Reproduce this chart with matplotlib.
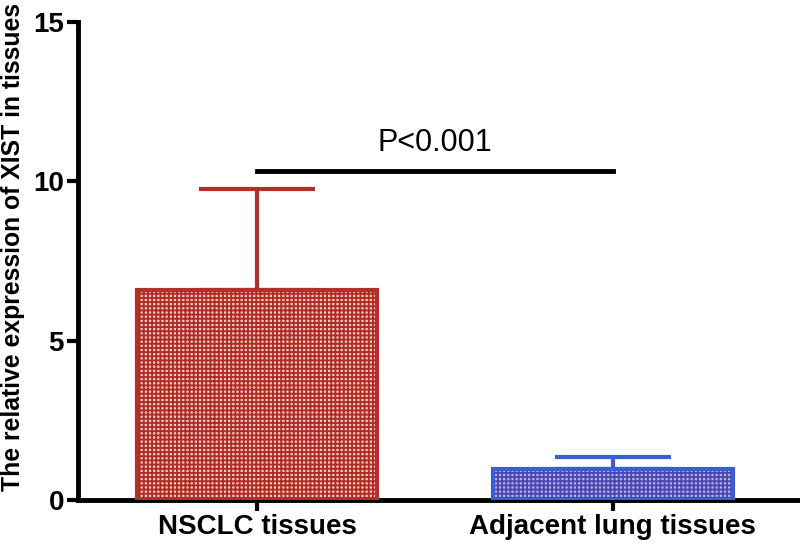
import matplotlib.pyplot as plt
import numpy as np

plt.rcParams['font.family'] = ['Liberation Sans', 'DejaVu Sans']
plt.rcParams['hatch.linewidth'] = 1.35

# data
groups = ['NSCLC tissues', 'Adjacent lung tissues']
means = [6.6, 0.97]
errors = [3.15, 0.38]
edge_colors = ['#b2302a', '#3a5fd0']
hatch_colors = ['#b02a26', '#4a48b0']
face_colors = ['#f4cfc4', '#b4b4ea']
p_text = 'P<0.001'
p_level = 10.33
y_ticks = [0, 5, 10, 15]

fig = plt.figure(figsize=(8, 5.46), dpi=100)
ax = fig.add_axes([0.0975, 0.0842, 0.9, 0.8755])

x = np.arange(len(groups))
for i in range(len(groups)):
    ax.bar(x[i], means[i], width=0.674, facecolor=face_colors[i],
           edgecolor=hatch_colors[i], hatch='++++', linewidth=0, zorder=2)
    ax.bar(x[i], means[i], width=0.674, facecolor='none',
           edgecolor=edge_colors[i], linewidth=3, zorder=3)
    ax.errorbar(x[i], means[i], yerr=[[0], [errors[i]]], fmt='none',
                ecolor=edge_colors[i], elinewidth=3, capsize=42,
                capthick=3, zorder=1)

# significance line
ax.plot([x[0], x[1]], [p_level, p_level], color='black', linewidth=3.5)
ax.text(np.mean(x), p_level + 0.4, p_text, ha='center', va='bottom',
        fontsize=22)

ax.set_xlim(-0.503, 1.52)
ax.set_ylim(0, 15)
ax.set_yticks(y_ticks)
ax.set_xticks(x)
ax.set_xticklabels(groups, fontsize=20, fontweight='bold')
ax.set_yticklabels([str(t) for t in y_ticks], fontsize=20, fontweight='bold')
ax.set_ylabel('The relative expression of XIST in tissues', fontsize=17.8,
              fontweight='bold')
ax.yaxis.set_label_coords(-0.074, 0.529)

for s in ['top', 'right']:
    ax.spines[s].set_visible(False)
for s in ['left', 'bottom']:
    ax.spines[s].set_linewidth(3.5)
ax.tick_params(axis='both', width=3, length=8, pad=2)

fig.savefig('out.png', dpi=100)
